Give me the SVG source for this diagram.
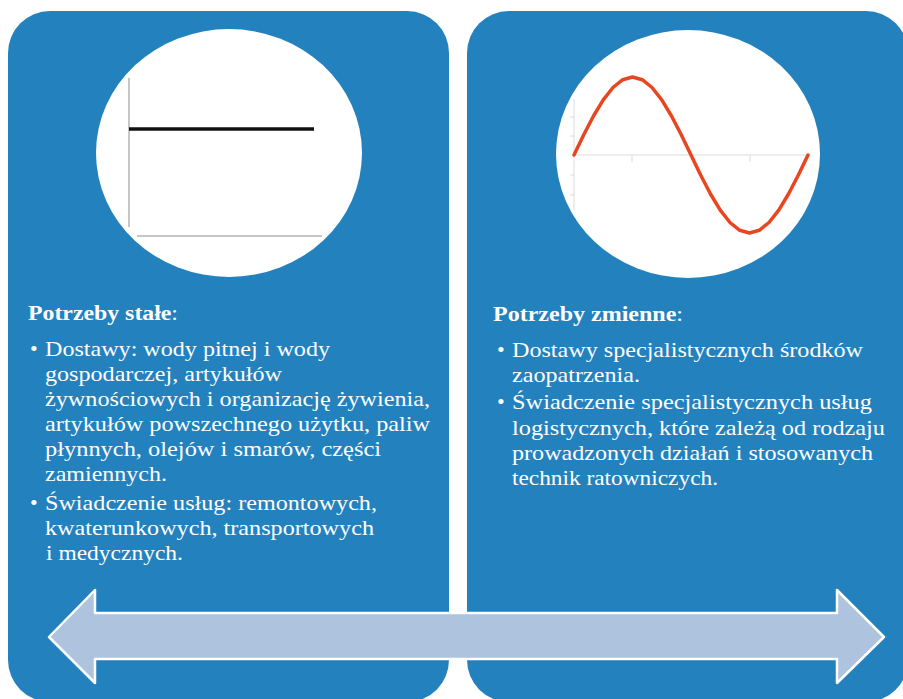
<svg xmlns="http://www.w3.org/2000/svg" width="903" height="699" viewBox="0 0 903 699">
<style>
.panel{fill:#2381be}
.t{font-family:"Liberation Serif","Times New Roman",serif;font-size:22px;fill:#ffffff}
.b{font-weight:bold}
.ax{stroke:#b3b3b3;stroke-width:1.5;fill:none}
.axl{stroke:#dcdcdc;stroke-width:1;fill:none}
</style>
<rect x="0" y="0" width="903" height="699" fill="#ffffff"/>
<g id="panel-left">
<rect class="panel" x="8" y="11" width="441" height="691" rx="42" ry="42"/>
<ellipse cx="229" cy="153" rx="133" ry="124" fill="#ffffff"/>
<line class="ax" x1="129" y1="78" x2="129" y2="227"/>
<line class="ax" x1="137" y1="236" x2="322" y2="236"/>
<line x1="129" y1="129" x2="314" y2="129" stroke="#111111" stroke-width="3.5"/>
<text class="t" x="28" y="320" textLength="150" lengthAdjust="spacingAndGlyphs"><tspan class="b">Potrzeby stałe</tspan>:</text>
<text class="t" x="30" y="356">•</text>
<text class="t" x="45" y="356" textLength="285" lengthAdjust="spacingAndGlyphs">Dostawy: wody pitnej i wody</text>
<text class="t" x="45" y="381" textLength="237" lengthAdjust="spacingAndGlyphs">gospodarczej, artykułów</text>
<text class="t" x="45" y="406" textLength="385" lengthAdjust="spacingAndGlyphs">żywnościowych i organizację żywienia,</text>
<text class="t" x="45" y="431" textLength="385" lengthAdjust="spacingAndGlyphs">artykułów powszechnego użytku, paliw</text>
<text class="t" x="45" y="456" textLength="336" lengthAdjust="spacingAndGlyphs">płynnych, olejów i smarów, części</text>
<text class="t" x="45" y="481" textLength="122" lengthAdjust="spacingAndGlyphs">zamiennych.</text>
<text class="t" x="30" y="510">•</text>
<text class="t" x="45" y="510" textLength="332" lengthAdjust="spacingAndGlyphs">Świadczenie usług: remontowych,</text>
<text class="t" x="45" y="535" textLength="329" lengthAdjust="spacingAndGlyphs">kwaterunkowych, transportowych</text>
<text class="t" x="46" y="560" textLength="137" lengthAdjust="spacingAndGlyphs">i medycznych.</text>
</g>
<g id="panel-right">
<rect class="panel" x="467" y="11" width="441" height="691" rx="42" ry="42"/>
<ellipse cx="688" cy="154" rx="132" ry="124" fill="#ffffff"/>
<line class="axl" x1="574" y1="99" x2="574" y2="210"/>
<line class="axl" x1="574" y1="155" x2="808" y2="155"/>
<path class="axl" d="M570 117H574M570 136H574M570 175H574M570 195H574M632 155V162M750 155V162"/>
<polyline fill="none" stroke="#e8461e" stroke-width="3.5" stroke-linejoin="round" stroke-linecap="round" points="574,155 583.75,134.8 593.5,116 603.25,99.8 613,87.5 622.75,79.7 632.5,77 642.25,79.7 652,87.5 661.75,99.8 671.5,116 681.25,134.8 691,155 700.75,175.2 710.5,194 720.25,210.2 730,222.5 739.75,230.3 749.5,233 759.25,230.3 769,222.5 778.75,210.2 788.5,194 798.25,175.2 808,155"/>
<text class="t" x="493" y="321" textLength="190" lengthAdjust="spacingAndGlyphs"><tspan class="b">Potrzeby zmienne</tspan>:</text>
<text class="t" x="497" y="357">•</text>
<text class="t" x="512" y="357" textLength="351" lengthAdjust="spacingAndGlyphs">Dostawy specjalistycznych środków</text>
<text class="t" x="512" y="382" textLength="128" lengthAdjust="spacingAndGlyphs">zaopatrzenia.</text>
<text class="t" x="497" y="409">•</text>
<text class="t" x="512" y="409" textLength="360" lengthAdjust="spacingAndGlyphs">Świadczenie specjalistycznych usług</text>
<text class="t" x="512" y="435" textLength="373" lengthAdjust="spacingAndGlyphs">logistycznych, które zależą od rodzaju</text>
<text class="t" x="512" y="460" textLength="361" lengthAdjust="spacingAndGlyphs">prowadzonych działań i stosowanych</text>
<text class="t" x="512" y="485" textLength="206" lengthAdjust="spacingAndGlyphs">technik ratowniczych.</text>
</g>
<g id="connectors">
<polygon points="49,637 95,590 95,613 837,613 837,590 884,637 837,683 837,659 95,659 95,683" fill="#adc3de" stroke="#ffffff" stroke-width="2.5" stroke-linejoin="round"/>
</g>
</svg>
